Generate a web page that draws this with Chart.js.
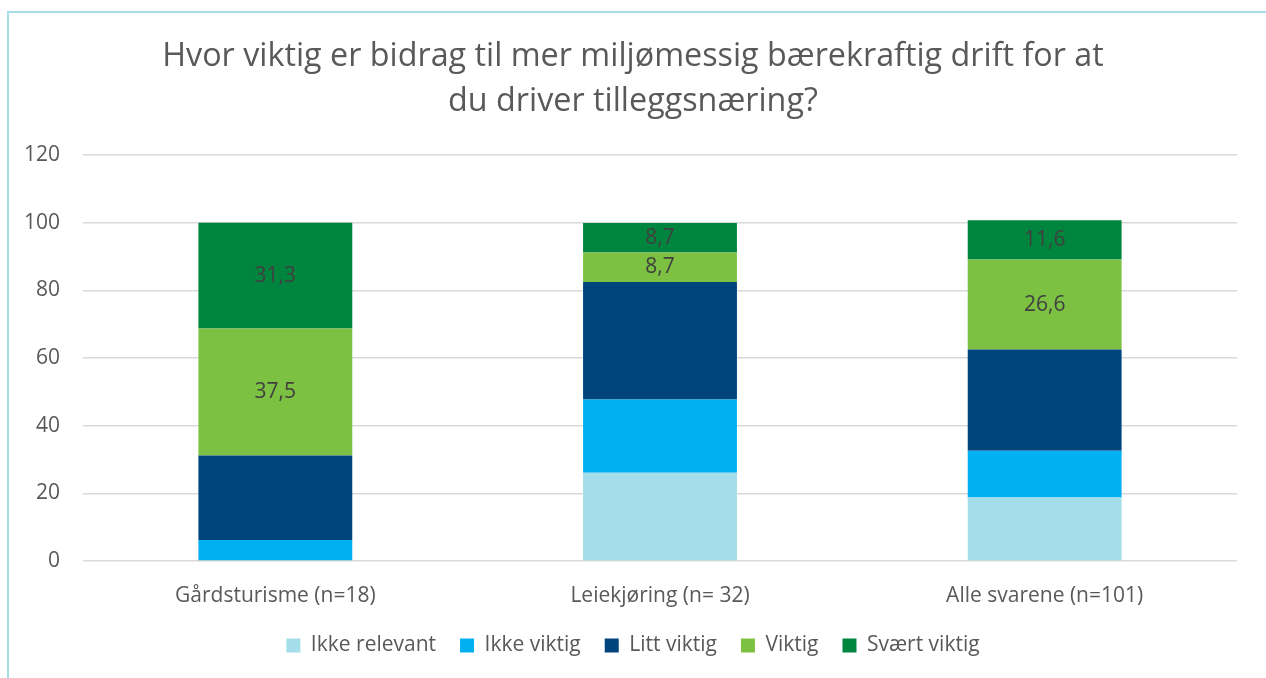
<!DOCTYPE html>
<html>
<head>
<meta charset="utf-8">
<script src="https://cdn.jsdelivr.net/npm/chart.js@4.4.1/dist/chart.umd.min.js"></script>
<style>
  html, body { margin: 0; padding: 0; background: #fff; overflow: hidden; }
  #frame { position: absolute; left: 7px; top: 11px; width: 1280px; height: 700px;
           border-left: 2px solid #a6dde8; border-top: 2px solid #a6dde8; }
  #wrap { position: absolute; left: 0; top: 0; width: 1266px; height: 678px; }
</style>
</head>
<body>
<div id="frame"></div>
<div id="wrap"><canvas id="chart"></canvas></div>
<script>
// Categories and series (percent)
const categories = ['Gårdsturisme (n=18)', 'Leiekjøring (n= 32)', 'Alle svarene (n=101)'];
const ikkeRelevant = [0, 26.1, 18.8];
const ikkeViktig = [6.2, 21.6, 13.8];
const littViktig = [25.0, 34.8, 29.9];
const viktig = [37.5, 8.7, 26.6];
const svaertViktig = [31.3, 8.7, 11.6];
const yTicks = [0, 20, 40, 60, 80, 100, 120];

const FONT = '"Open Sans", sans-serif';
const TEXT = '#595959';

// value labels in the middle of the segments (only for the two top series)
const segmentLabels = {
    id: 'segmentLabels',
    afterDatasetsDraw(chart) {
        const ctx = chart.ctx;
        ctx.save();
        ctx.font = '21px ' + FONT;
        ctx.fillStyle = '#404040';
        ctx.textAlign = 'center';
        ctx.textBaseline = 'middle';
        chart.data.datasets.forEach((ds, i) => {
            if (!ds.showValues) return;
            chart.getDatasetMeta(i).data.forEach((bar, j) => {
                const v = ds.data[j];
                if (!v) return;
                const p = bar.getProps(['x', 'y', 'base'], true);
                ctx.fillText(v.toFixed(1).replace('.', ','), p.x, (p.y + p.base) / 2);
            });
        });
        ctx.restore();
    }
};

new Chart(document.getElementById('chart').getContext('2d'), {
    type: 'bar',
    data: {
        labels: categories,
        datasets: [
            { label: 'Ikke relevant', data: ikkeRelevant, backgroundColor: '#a4deea' },
            { label: 'Ikke viktig', data: ikkeViktig, backgroundColor: '#00b0f0' },
            { label: 'Litt viktig', data: littViktig, backgroundColor: '#00447c' },
            { label: 'Viktig', data: viktig, backgroundColor: '#7cc142', showValues: true },
            { label: 'Svært viktig', data: svaertViktig, backgroundColor: '#00853e', showValues: true }
        ]
    },
    options: {
        responsive: true,
        maintainAspectRatio: false,
        animation: false,
        layout: { padding: { left: 0, right: 0, top: 0, bottom: 12 } },
        datasets: { bar: { categoryPercentage: 1, barPercentage: 0.4, borderWidth: 0 } },
        scales: {
            x: {
                stacked: true,
                afterFit: s => { s.height = 50; },
                grid: { display: false },
                border: { display: false },
                ticks: { color: TEXT, font: { family: FONT, size: 21 }, padding: 14 }
            },
            y: {
                stacked: true,
                min: 0,
                max: 120,
                afterFit: s => { s.width = 83; },
                afterBuildTicks: s => { s.ticks = yTicks.map(v => ({ value: v })); },
                grid: { color: '#d9d9d9', lineWidth: 1.5, drawTicks: false },
                border: { display: false },
                ticks: { color: TEXT, font: { family: FONT, size: 21 }, padding: 23 }
            },
            // empty right axis, only keeps the plot clear of the right edge
            yRight: {
                position: 'right',
                afterFit: s => { s.width = 29; },
                grid: { display: false },
                border: { display: false },
                ticks: { display: false }
            }
        },
        plugins: {
            title: {
                display: true,
                text: ['Hvor viktig er bidrag til mer miljømessig bærekraftig drift for at', 'du driver tilleggsnæring?'],
                color: TEXT,
                font: { family: FONT, size: 32.3, weight: 'normal', lineHeight: 1.37 },
                padding: { top: 35, bottom: 31.5 }
            },
            legend: {
                position: 'bottom',
                labels: { color: TEXT, font: { family: FONT, size: 21, lineHeight: 1 }, boxWidth: 14, boxHeight: 14, padding: 24 }
            },
            tooltip: { enabled: false }
        }
    },
    plugins: [segmentLabels]
});
</script>
</body>
</html>
